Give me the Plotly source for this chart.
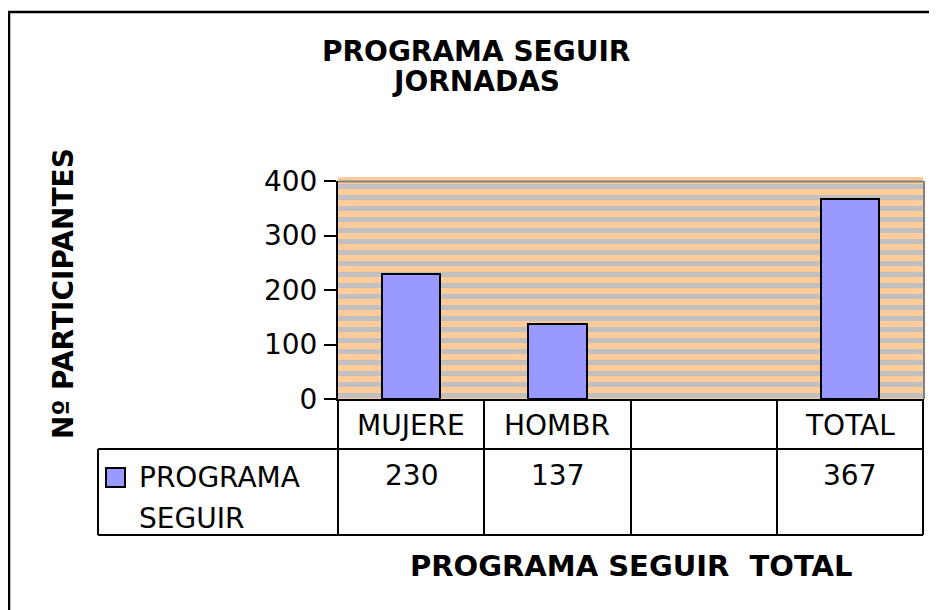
import plotly.graph_objects as go

# ---- data ----
categories = ["MUJERE", "HOMBR", "", "TOTAL"]
values = [230, 137, None, 367]
series_label = ["PROGRAMA", "SEGUIR"]
y_ticks = [0, 100, 200, 300, 400]
title_lines = ["PROGRAMA SEGUIR", "JORNADAS"]
y_title = "Nº PARTICIPANTES"
x_title = "PROGRAMA SEGUIR  TOTAL"

# ---- layout geometry ----
W, H = 937, 610
OFF = 8  # page offset of the figure inside the browser window
L, T = 338 - OFF, 181 - OFF
R = W - (923 - OFF)
B = H - (399 - OFF)
PW, PH = W - L - R, H - T - B


def px(x):
    """reference window x -> paper x"""
    return (x - OFF - L) / PW


def py(y):
    """reference window y -> paper y"""
    return (H - B - (y - OFF)) / PH


FONT = "DejaVu Sans, Arial, sans-serif"
BAR = "#9999FF"

fig = go.Figure()
fig.add_trace(go.Bar(
    x=list(range(len(categories))), y=values, width=0.4,
    marker=dict(color=BAR, line=dict(color="black", width=2)),
    showlegend=False, hoverinfo="skip",
))

shapes = []
# striped plot background (gray bands on orange)
period = 11
for i in range(40):
    top = 3 + i * period
    bot = top + 5
    if top >= PH:
        break
    shapes.append(dict(type="rect", xref="x domain", yref="y domain",
                       x0=0, x1=1, y0=max(0, 1 - bot / PH), y1=1 - top / PH,
                       fillcolor="#C0C0C0", line=dict(width=0), layer="below"))
# top wall edge and right shadow
shapes.append(dict(type="rect", xref="paper", yref="paper", x0=0, x1=px(923),
                   y0=py(181), y1=py(177), fillcolor="#FFCC99", line=dict(width=0), layer="below"))
shapes.append(dict(type="line", xref="paper", yref="paper", x0=0, x1=px(923),
                   y0=py(181.5), y1=py(181.5), line=dict(color="#808080", width=2)))
shapes.append(dict(type="line", xref="paper", yref="paper", x0=px(924), x1=px(924),
                   y0=py(181), y1=py(399), line=dict(color="#808080", width=2)))

# data table lines
lw = dict(color="black", width=2)
bounds = [338, 484, 631, 777, 923]
for xb in bounds:
    shapes.append(dict(type="line", xref="paper", yref="paper", x0=px(xb), x1=px(xb),
                       y0=py(399), y1=py(535), line=lw))
shapes.append(dict(type="line", xref="paper", yref="paper", x0=px(98), x1=px(98),
                   y0=py(449), y1=py(535), line=lw))
for yb in [449, 535]:
    shapes.append(dict(type="line", xref="paper", yref="paper", x0=px(98), x1=px(923),
                       y0=py(yb), y1=py(yb), line=lw))
# legend key
shapes.append(dict(type="rect", xref="paper", yref="paper", x0=px(106), x1=px(125),
                   y0=py(487), y1=py(468), fillcolor=BAR, line=dict(color="black", width=2)))
# outer frame
shapes.append(dict(type="rect", xref="paper", yref="paper", x0=px(9), x1=px(960),
                   y0=py(640), y1=py(12), line=dict(color="black", width=2.5)))

body = dict(family=FONT, size=28, color="black")
ann = []
for i, c in enumerate(categories):
    if c:
        ann.append(dict(x=i, xref="x", y=py(425), yref="paper", text=c, showarrow=False,
                        font=body, xanchor="center", yanchor="middle"))
    if values[i] is not None:
        ann.append(dict(x=i, xref="x", y=py(475), yref="paper", text=str(values[i]),
                        showarrow=False, font=body, xanchor="center", yanchor="middle"))
ann.append(dict(x=px(137), xref="paper", y=py(477), yref="paper", text=series_label[0],
                showarrow=False, font=body, xanchor="left", yanchor="middle"))
ann.append(dict(x=px(137), xref="paper", y=py(518), yref="paper", text=series_label[1],
                showarrow=False, font=body, xanchor="left", yanchor="middle"))
# titles
bold28 = dict(family=FONT, size=28, color="black", weight="bold")
ann.append(dict(x=px(476), xref="paper", y=py(51), yref="paper", text=title_lines[0],
                showarrow=False, font=bold28, xanchor="center", yanchor="middle"))
ann.append(dict(x=px(476), xref="paper", y=py(82), yref="paper", text=title_lines[1],
                showarrow=False, font=bold28, xanchor="center", yanchor="middle"))
ann.append(dict(x=px(63), xref="paper", y=py(294), yref="paper", text=y_title, textangle=-90,
                showarrow=False, font=bold28, xanchor="center", yanchor="middle"))
ann.append(dict(x=px(631), xref="paper", y=py(566), yref="paper", text=x_title,
                showarrow=False, font=dict(family=FONT, size=29, color="black", weight="bold"),
                xanchor="center", yanchor="middle"))

fig.update_layout(
    width=W, height=H, margin=dict(l=L, r=R, t=T, b=B, autoexpand=False),
    paper_bgcolor="white", plot_bgcolor="#FFCC99",
    shapes=shapes, annotations=ann, bargap=0,
    xaxis=dict(range=[-0.5, len(categories) - 0.5], showticklabels=False, showgrid=False,
               zeroline=False, showline=True, linecolor="black", linewidth=2, ticks="",
               fixedrange=True),
    yaxis=dict(range=[0, 400], tickvals=y_ticks, ticks="outside", ticklen=12, tickwidth=2,
               tickcolor="black", showline=True, linecolor="black", linewidth=2,
               showgrid=False, zeroline=False, ticklabelstandoff=1,
               tickfont=body, fixedrange=True),
)

fig.write_html("out.html")
